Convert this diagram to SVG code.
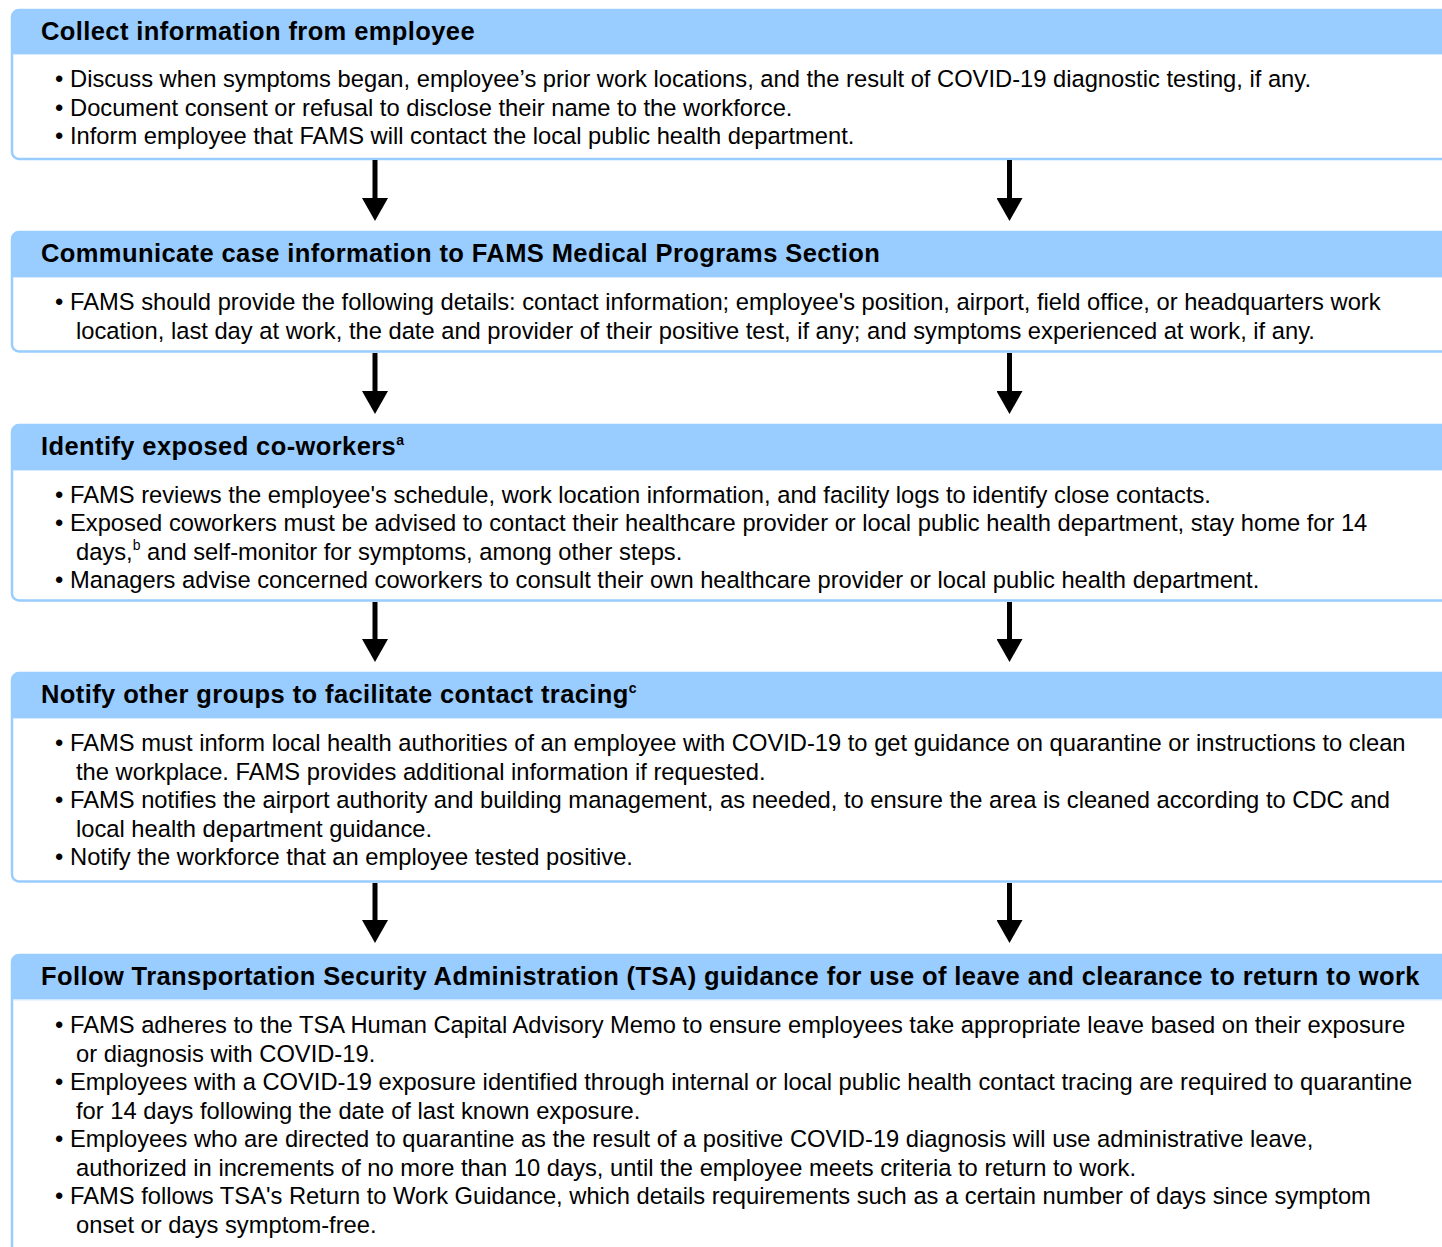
<svg xmlns="http://www.w3.org/2000/svg" width="1442" height="1247" viewBox="0 0 1442 1247">
<style>
.body{fill:#fff;stroke:#99CCFF;stroke-width:2.5}
.hdr{fill:#99CCFF}
.sep{stroke:#D6EBFF;stroke-width:1.2}
.h{font-family:"Liberation Sans",Arial,sans-serif;font-weight:bold;font-size:25.5px;letter-spacing:0.4px;fill:#000}
.t{font-family:"Liberation Sans",Arial,sans-serif;font-size:23.72px;fill:#000}
.sup{font-size:14px}
.shaft{stroke:#000;stroke-width:5}
</style>
<defs>
<marker id="ah" markerUnits="userSpaceOnUse" markerWidth="23" markerHeight="26" refX="0" refY="13" orient="auto" viewBox="0 0 23 26">
<path d="M0,0 L23,13 L0,26 Z" fill="#000"/>
</marker>
</defs>
<rect width="1442" height="1247" fill="#fff"/>

<g id="box1">
<rect class="body" x="12" y="10" width="1450" height="149" rx="7"/>
<path class="hdr" d="M12,54 V17 Q12,10 19,10 H1462 V54 Z"/>
<line class="sep" x1="13" y1="54.5" x2="1442" y2="54.5"/>
<text class="h" x="41" y="39.5">Collect information from employee</text>
<text class="t" x="55" y="87">•</text><text class="t" x="70" y="87">Discuss when symptoms began, employee’s prior work locations, and the result of COVID-19 diagnostic testing, if any.</text>
<text class="t" x="55" y="115.5">•</text><text class="t" x="70" y="115.5">Document consent or refusal to disclose their name to the workforce.</text>
<text class="t" x="55" y="144">•</text><text class="t" x="70" y="144">Inform employee that FAMS will contact the local public health department.</text>
</g>

<g id="box2">
<rect class="body" x="12" y="232" width="1450" height="119.5" rx="7"/>
<path class="hdr" d="M12,277 V239 Q12,232 19,232 H1462 V277 Z"/>
<line class="sep" x1="13" y1="277.5" x2="1442" y2="277.5"/>
<text class="h" x="41" y="261.5">Communicate case information to FAMS Medical Programs Section</text>
<text class="t" x="55" y="310">•</text><text class="t" x="70" y="310">FAMS should provide the following details: contact information; employee's position, airport, field office, or headquarters work</text>
<text class="t" x="76" y="339">location, last day at work, the date and provider of their positive test, if any; and symptoms experienced at work, if any.</text>
</g>

<g id="box3">
<rect class="body" x="12" y="425" width="1450" height="175.5" rx="7"/>
<path class="hdr" d="M12,470 V432 Q12,425 19,425 H1462 V470 Z"/>
<line class="sep" x1="13" y1="470.5" x2="1442" y2="470.5"/>
<text class="h" x="41" y="454.5">Identify exposed co-workers<tspan class="sup" dy="-10">a</tspan></text>
<text class="t" x="55" y="502.5">•</text><text class="t" x="70" y="502.5">FAMS reviews the employee's schedule, work location information, and facility logs to identify close contacts.</text>
<text class="t" x="55" y="531">•</text><text class="t" x="70" y="531">Exposed coworkers must be advised to contact their healthcare provider or local public health department, stay home for 14</text>
<text class="t" x="76" y="559.5">days,<tspan class="sup" dy="-10">b</tspan><tspan dy="10"> and self-monitor for symptoms, among other steps.</tspan></text>
<text class="t" x="55" y="588">•</text><text class="t" x="70" y="588">Managers advise concerned coworkers to consult their own healthcare provider or local public health department.</text>
</g>

<g id="box4">
<rect class="body" x="12" y="673" width="1450" height="208.5" rx="7"/>
<path class="hdr" d="M12,718 V680 Q12,673 19,673 H1462 V718 Z"/>
<line class="sep" x1="13" y1="718.5" x2="1442" y2="718.5"/>
<text class="h" x="41" y="702.5">Notify other groups to facilitate contact tracing<tspan class="sup" dy="-10">c</tspan></text>
<text class="t" x="55" y="751">•</text><text class="t" x="70" y="751">FAMS must inform local health authorities of an employee with COVID-19 to get guidance on quarantine or instructions to clean</text>
<text class="t" x="76" y="779.5">the workplace. FAMS provides additional information if requested.</text>
<text class="t" x="55" y="808">•</text><text class="t" x="70" y="808">FAMS notifies the airport authority and building management, as needed, to ensure the area is cleaned according to CDC and</text>
<text class="t" x="76" y="836.5">local health department guidance.</text>
<text class="t" x="55" y="865">•</text><text class="t" x="70" y="865">Notify the workforce that an employee tested positive.</text>
</g>

<g id="box5">
<rect class="body" x="12" y="955" width="1450" height="320" rx="7"/>
<path class="hdr" d="M12,999.5 V962 Q12,955 19,955 H1462 V999.5 Z"/>
<line class="sep" x1="13" y1="1000" x2="1442" y2="1000"/>
<text class="h" x="41" y="984.5">Follow Transportation Security Administration (TSA) guidance for use of leave and clearance to return to work</text>
<text class="t" x="55" y="1033">•</text><text class="t" x="70" y="1033">FAMS adheres to the TSA Human Capital Advisory Memo to ensure employees take appropriate leave based on their exposure</text>
<text class="t" x="76" y="1061.5">or diagnosis with COVID-19.</text>
<text class="t" x="55" y="1090">•</text><text class="t" x="70" y="1090">Employees with a COVID-19 exposure identified through internal or local public health contact tracing are required to quarantine</text>
<text class="t" x="76" y="1118.5">for 14 days following the date of last known exposure.</text>
<text class="t" x="55" y="1147">•</text><text class="t" x="70" y="1147">Employees who are directed to quarantine as the result of a positive COVID-19 diagnosis will use administrative leave,</text>
<text class="t" x="76" y="1175.5">authorized in increments of no more than 10 days, until the employee meets criteria to return to work.</text>
<text class="t" x="55" y="1204">•</text><text class="t" x="70" y="1204">FAMS follows TSA's Return to Work Guidance, which details requirements such as a certain number of days since symptom</text>
<text class="t" x="76" y="1232.5">onset or days symptom-free.</text>
</g>

<g id="connectors">
<line class="shaft" x1="375" y1="160" x2="375" y2="198" marker-end="url(#ah)"/>
<line class="shaft" x1="1009.5" y1="160" x2="1009.5" y2="198" marker-end="url(#ah)"/>
<line class="shaft" x1="375" y1="353" x2="375" y2="391" marker-end="url(#ah)"/>
<line class="shaft" x1="1009.5" y1="353" x2="1009.5" y2="391" marker-end="url(#ah)"/>
<line class="shaft" x1="375" y1="602" x2="375" y2="639" marker-end="url(#ah)"/>
<line class="shaft" x1="1009.5" y1="602" x2="1009.5" y2="639" marker-end="url(#ah)"/>
<line class="shaft" x1="375" y1="883" x2="375" y2="920" marker-end="url(#ah)"/>
<line class="shaft" x1="1009.5" y1="883" x2="1009.5" y2="920" marker-end="url(#ah)"/>
</g>
</svg>
